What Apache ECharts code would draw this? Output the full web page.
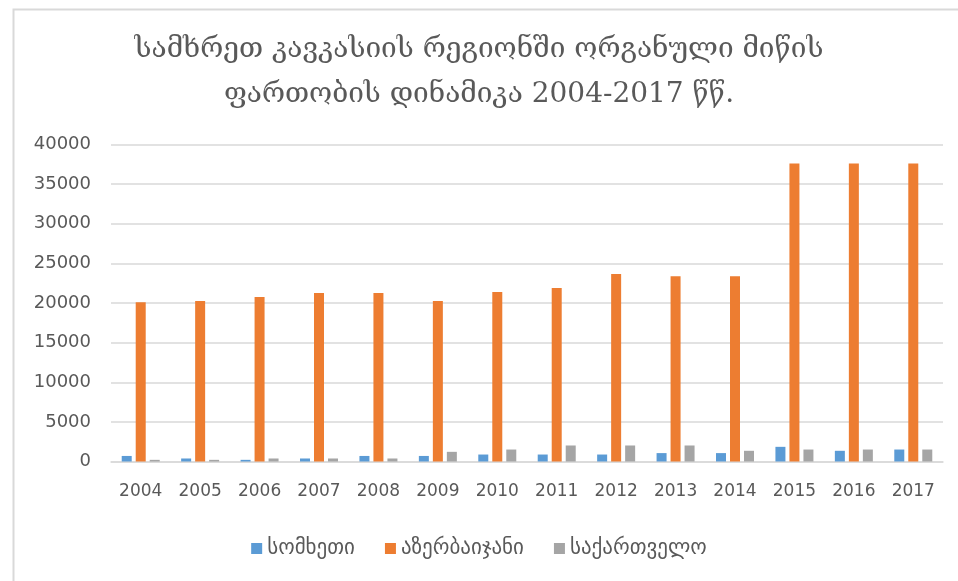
<!DOCTYPE html>
<html>
<head>
<meta charset="utf-8">
<script src="https://cdn.jsdelivr.net/npm/echarts@6/dist/echarts.min.js"></script>
<style>
html,body{margin:0;padding:0;background:#fff;}
#chart{width:958px;height:581px;}
</style>
</head>
<body>
<div id="chart"></div>
<script>
const titleText = 'სამხრეთ კავკასიის რეგიონში ორგანული მიწის\nფართობის დინამიკა 2004-2017 წწ.';
const years = ['2004','2005','2006','2007','2008','2009','2010','2011','2012','2013','2014','2015','2016','2017'];
const seriesNames = ['სომხეთი','აზერბაიჯანი','საქართველო'];
const armenia = [700, 380, 210, 380, 700, 700, 880, 880, 880, 1060, 1060, 1850, 1350, 1510];
const azerbaijan = [20100, 20250, 20760, 21250, 21250, 20250, 21400, 21900, 23650, 23370, 23370, 37600, 37600, 37600];
const georgia = [210, 210, 380, 380, 380, 1220, 1510, 2020, 2020, 2020, 1350, 1510, 1510, 1510];
const yTicks = [0, 5000, 10000, 15000, 20000, 25000, 30000, 35000, 40000];
const colors = ['#5B9BD5', '#ED7D31', '#A5A5A5'];

const chart = echarts.init(document.getElementById('chart'), null, {renderer: 'canvas'});
const font = 'DejaVu Sans';
const values = [armenia, azerbaijan, georgia];
chart.setOption({
  animation: false,
  backgroundColor: '#ffffff',
  graphic: [{
    type: 'rect', left: 11, top: 7,
    shape: {width: 1100, height: 1100},
    style: {fill: 'none', stroke: '#d9d9d9', lineWidth: 2},
    silent: true
  }],
  title: {
    text: titleText,
    left: 'center',
    top: 22,
    textStyle: {fontFamily: 'DejaVu Serif', fontSize: 28, fontWeight: 'normal', color: '#595959', lineHeight: 45}
  },
  legend: {
    data: seriesNames,
    bottom: 17,
    left: 'center',
    itemWidth: 11, itemHeight: 11, itemGap: 30,
    icon: 'rect',
    textStyle: {fontFamily: font, fontSize: 21, color: '#595959'}
  },
  grid: {left: 111, right: 15, top: 144.5, bottom: 119.5, containLabel: false},
  xAxis: {
    type: 'category',
    data: years,
    axisLine: {lineStyle: {color: '#d9d9d9', width: 1.5}},
    axisTick: {show: false},
    axisLabel: {fontFamily: font, fontSize: 17, color: '#595959', margin: 22}
  },
  yAxis: {
    type: 'value',
    min: yTicks[0], max: yTicks[yTicks.length - 1], interval: yTicks[1] - yTicks[0],
    axisLine: {show: false}, axisTick: {show: false},
    splitLine: {lineStyle: {color: '#d9d9d9', width: 1.5}},
    axisLabel: {fontFamily: font, fontSize: 18, color: '#595959', margin: 20, formatter: v => String(v)}
  },
  series: seriesNames.map((n, i) => ({
    name: n,
    type: 'bar',
    data: values[i],
    barWidth: 10,
    barGap: '40%',
    itemStyle: {color: colors[i]}
  }))
});
</script>
</body>
</html>
